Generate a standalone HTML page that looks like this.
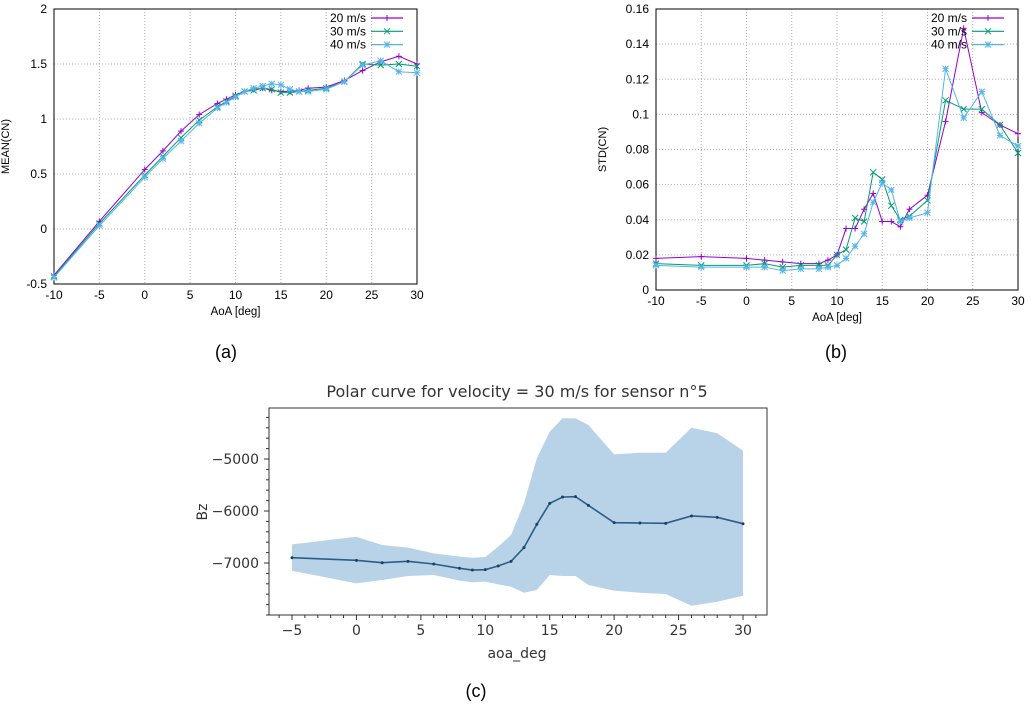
<!DOCTYPE html>
<html><head><meta charset="utf-8"><style>
body{margin:0;background:#fff;width:1032px;height:704px;overflow:hidden}
svg{position:absolute;left:0;top:0}
text{font-family:"Liberation Sans",sans-serif}
.dv{font-family:"DejaVu Sans","Liberation Sans",sans-serif}
</style></head><body>
<svg id="chart" width="1032" height="704"></svg>
<script>
// ---- Data ----
const aoaGnu = [-10,-5,0,2,4,6,8,9,10,11,12,13,14,15,16,17,18,20,22,24,26,28,30];
const mean20 = [-0.42,0.07,0.54,0.71,0.89,1.04,1.14,1.18,1.22,1.25,1.27,1.28,1.26,1.25,1.25,1.26,1.28,1.29,1.35,1.44,1.52,1.57,1.50];
const mean30 = [-0.43,0.05,0.49,0.66,0.83,0.99,1.11,1.16,1.21,1.25,1.26,1.28,1.27,1.24,1.24,1.25,1.26,1.28,1.34,1.50,1.49,1.50,1.48];
const mean40 = [-0.44,0.03,0.47,0.64,0.80,0.96,1.10,1.15,1.20,1.25,1.28,1.30,1.32,1.31,1.27,1.25,1.25,1.27,1.34,1.49,1.53,1.43,1.42];
const std20 = [.018,.019,.018,.017,.016,.015,.015,.017,.020,.035,.035,.046,.055,.039,.039,.036,.046,.054,.096,.149,.101,.094,.089];
const std30 = [.015,.014,.014,.015,.013,.014,.014,.014,.020,.023,.041,.039,.067,.063,.048,.040,.042,.051,.108,.103,.103,.094,.078];
const std40 = [.014,.013,.013,.013,.011,.012,.012,.013,.014,.018,.025,.032,.050,.061,.057,.039,.041,.044,.126,.098,.113,.088,.082];
const seriesNames = ["20 m/s","30 m/s","40 m/s"];
const xTicksGnu = [-10,-5,0,5,10,15,20,25,30];
const yTicksA = [-0.5,0,0.5,1,1.5,2];
const yTickLabelsA = ["-0.5","0","0.5","1","1.5","2"];
const yTicksB = [0,0.02,0.04,0.06,0.08,0.1,0.12,0.14,0.16];
const yTickLabelsB = ["0","0.02","0.04","0.06","0.08","0.1","0.12","0.14","0.16"];

const aoaC = [-5,0,2,4,6,8,9,10,11,12,13,14,15,16,17,18,20,22,24,26,28,30];
const bzMean = [-6898,-6949,-6994,-6968,-7019,-7102,-7135,-7128,-7058,-6968,-6705,-6256,-5853,-5731,-5724,-5891,-6224,-6231,-6237,-6096,-6122,-6244];
const bzUpper = [-6641,-6494,-6654,-6705,-6814,-6878,-6898,-6885,-6686,-6462,-5853,-4987,-4475,-4217,-4217,-4346,-4910,-4879,-4879,-4398,-4506,-4840];
const bzLower = [-7148,-7391,-7327,-7250,-7231,-7340,-7371,-7359,-7410,-7456,-7571,-7519,-7231,-7250,-7250,-7423,-7532,-7571,-7596,-7821,-7744,-7629];
const xTicksC = [-5,0,5,10,15,20,25,30];
const yTicksC = [-5000,-6000,-7000];

const svg = document.getElementById('chart');
const NS = 'http://www.w3.org/2000/svg';
function mk(tag, attrs, parent){
  const e = document.createElementNS(NS, tag);
  for (const k in attrs) e.setAttribute(k, attrs[k]);
  (parent||svg).appendChild(e); return e;
}
function txt(s, attrs, parent){ const t = mk('text', attrs, parent); t.textContent = s; return t; }

const colors = ['#9400d3','#009e73','#56b4e9'];

function marker(g, type, x, y, c){
  const s = 3;
  if (type===0 || type===2){
    mk('line',{x1:x-s,y1:y,x2:x+s,y2:y,stroke:c,'stroke-width':1},g);
    mk('line',{x1:x,y1:y-s,x2:x,y2:y+s,stroke:c,'stroke-width':1},g);
  }
  if (type===1 || type===2){
    mk('line',{x1:x-s,y1:y-s,x2:x+s,y2:y+s,stroke:c,'stroke-width':1},g);
    mk('line',{x1:x-s,y1:y+s,x2:x+s,y2:y-s,stroke:c,'stroke-width':1},g);
  }
}

function gnuPanel(opt){
  const g = mk('g',{}, svg);
  
  
  const X = v => opt.L + (v - (-10)) / 40 * (opt.R - opt.L);
  const Y = v => opt.B - (v - opt.ymin) / (opt.ymax - opt.ymin) * (opt.B - opt.T);
  xTicksGnu.forEach(v=>{
    const x = X(v);
    if (v>-10 && v<30) mk('line',{x1:x,y1:opt.T,x2:x,y2:opt.B,stroke:'#b0b0b0','stroke-dasharray':'1,2','stroke-width':1},g);
    const t = txt(String(v),{x:x,y:opt.B+15,'font-size':12,'text-anchor':'middle',fill:'#000'},g);
    
    
  });
  opt.yt.forEach((v,i)=>{
    const y = Y(v);
    if (i>0 && i<opt.yt.length-1) mk('line',{x1:opt.L,y1:y,x2:opt.R,y2:y,stroke:'#b0b0b0','stroke-dasharray':'1,2','stroke-width':1},g);
    const t = txt(opt.ytl[i],{x:opt.L-7,y:y+4,'font-size':12,'text-anchor':'end',fill:'#000'},g);
    
    
  });
  const fr = mk('rect',{x:opt.L,y:opt.T,width:opt.R-opt.L,height:opt.B-opt.T,fill:'none',stroke:'#000','stroke-width':1},g);
  
  
  opt.series.forEach((vals,si)=>{
    const sg = mk('g',{},g);
    
    
    const pts = vals.map((v,i)=>X(aoaGnu[i])+','+Y(v)).join(' ');
    mk('polyline',{points:pts,fill:'none',stroke:colors[si],'stroke-width':1},sg);
    vals.forEach((v,i)=>marker(sg,si,X(aoaGnu[i]),Y(v),colors[si]));
    const ly = opt.T + 9 + si*13.3;
    const lg = mk('g',{},g);
    
    
    txt(seriesNames[si],{x:opt.legX,y:ly+4,'font-size':12,'text-anchor':'end',fill:'#000'},lg);
    mk('line',{x1:opt.legX+5,y1:ly,x2:opt.legX+37,y2:ly,stroke:colors[si],'stroke-width':1.2},lg);
    marker(lg,si,opt.legX+21,ly,colors[si]);
  });
  const xl = txt('AoA [deg]',{x:(opt.L+opt.R)/2,y:opt.B+31,'font-size':11.5,'text-anchor':'middle'},g);
  
  
  const yl = txt(opt.ylab,{x:0,y:0,'font-size':11,'text-anchor':'middle',transform:`translate(${opt.ylx},${(opt.T+opt.B)/2}) rotate(-90)`},g);
  
  
  const cap = txt(opt.cap,{x:opt.capX,y:358,'font-size':18,'text-anchor':'middle'},g);
  
  
}

gnuPanel({name:'chart-mean-cn',L:54,R:417,T:9,B:284,ymin:-0.5,ymax:2,yt:yTicksA,ytl:yTickLabelsA,
  series:[mean20,mean30,mean40],legX:366,ylab:'MEAN(CN)',ylx:9,cap:'(a)',capX:226});
gnuPanel({name:'chart-std-cn',L:656,R:1018,T:9,B:290,ymin:0,ymax:0.16,yt:yTicksB,ytl:yTickLabelsB,
  series:[std20,std30,std40],legX:967,ylab:'STD(CN)',ylx:606,cap:'(b)',capX:836});

// ---- Panel c ----
(function(){
  const g = mk('g',{},svg);
  
  
  const L=269,R=767,T=408,B=615;
  const X = v => 292 + (v+5)/35*(743-292);
  const Y = v => 459 + (-5000 - v)/1000*52;
  const up = bzUpper.map((v,i)=>X(aoaC[i])+','+Y(v));
  const lo = bzLower.map((v,i)=>X(aoaC[i])+','+Y(v)).reverse();
  const band = mk('polygon',{points:up.concat(lo).join(' '),fill:'#b8d3e8',stroke:'none'},g);
  
  
  const line = mk('polyline',{points:bzMean.map((v,i)=>X(aoaC[i])+','+Y(v)).join(' '),fill:'none',stroke:'#2c5d8a','stroke-width':1.6},g);
  
  
  bzMean.forEach((v,i)=>mk('circle',{cx:X(aoaC[i]),cy:Y(v),r:1.5,fill:'#1f3f5f'},g));
  const fr = mk('rect',{x:L,y:T,width:R-L,height:B-T,fill:'none',stroke:'#333','stroke-width':1},g);
  
  
  for(let v=-6;v<=31;v++){
    const x=X(v); if(x<L||x>R) continue;
    const major = xTicksC.includes(v);
    mk('line',{x1:x,y1:B,x2:x,y2:B+(major?5:3),stroke:'#333','stroke-width':1},g);
  }
  xTicksC.forEach(v=>{
    const t = txt(String(v).replace('-','\u2212'),{x:X(v),y:B+20,'font-size':14,'text-anchor':'middle',fill:'#333',class:'dv'},g);
    
    
  });
  for(let v=-4000;v>=-8200;v-=200){
    const y=Y(v); if(y<T||y>B) continue;
    const major = yTicksC.includes(v);
    mk('line',{x1:L,y1:y,x2:L-(major?5:3),y2:y,stroke:'#333','stroke-width':1},g);
  }
  yTicksC.forEach(v=>{
    const t = txt(String(v).replace('-','\u2212'),{x:259,y:Y(v)+5,'font-size':14,'text-anchor':'end',fill:'#333',class:'dv'},g);
    
    
  });
  const ti = txt('Polar curve for velocity = 30 m/s for sensor n°5',{x:517,y:397,'font-size':16,'text-anchor':'middle',fill:'#333',class:'dv'},g);
  
  
  const xl = txt('aoa_deg',{x:517,y:658,'font-size':14,'text-anchor':'middle',fill:'#333',class:'dv'},g);
  
  
  const yl = txt('Bz',{x:0,y:0,'font-size':14,'text-anchor':'middle',fill:'#333',class:'dv',transform:'translate(207,512) rotate(-90)'},g);
  
  
  const cap = txt('(c)',{x:476,y:697,'font-size':18,'text-anchor':'middle'},g);
  
  
})();
</script>
</body></html>
